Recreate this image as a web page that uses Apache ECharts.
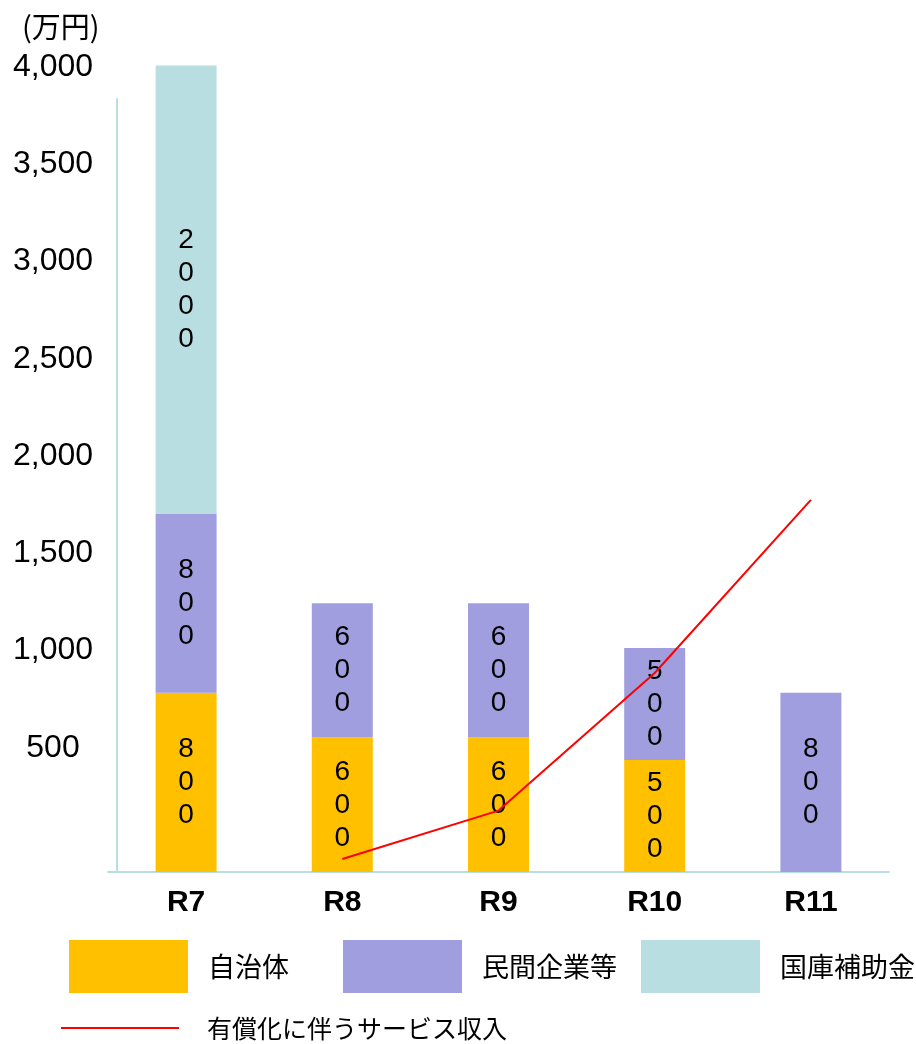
<!DOCTYPE html>
<html>
<head>
<meta charset="utf-8">
<script src="https://cdn.jsdelivr.net/npm/echarts@6/dist/echarts.min.js"></script>
<style>
html,body{margin:0;padding:0;background:#fff;}
#chart{width:916px;height:1044px;}
</style>
</head>
<body>
<div id="chart"></div>
<script>
// ---- data ----
var categories = ['R7', 'R8', 'R9', 'R10', 'R11'];
var municipal = [800, 600, 600, 500, null];      // 自治体
var privateCo = [800, 600, 600, 500, 800];       // 民間企業等
var subsidy   = [2000, null, null, null, null];  // 国庫補助金
var serviceIncome = [null, 58, 274, 888, 1661];  // 有償化に伴うサービス収入
var yTickLabels = [500, 1000, 1500, 2000, 2500, 3000, 3500, 4000];

var names = ['自治体', '民間企業等', '国庫補助金', '有償化に伴うサービス収入'];
var colors = ['#FFC000', '#A09EDE', '#B9DEE1', '#FF0000'];

var NUM_FONT = '"Liberation Sans", Arial, sans-serif';
var CJK_FONT = '"Noto Sans CJK JP", "Noto Sans", sans-serif';

function digitLabel(p) {
  if (p.value == null) return '';
  return String(p.value).split('').join('\n');
}

var chart = echarts.init(document.getElementById('chart'));

var barLabel = {
  show: true,
  position: 'inside',
  formatter: digitLabel,
  fontFamily: NUM_FONT,
  fontSize: 28,
  lineHeight: 33,
  color: '#000'
};

function legendFor(name, left, top, opts) {
  return Object.assign({
    data: [{ name: name, icon: 'rect' }],
    left: left,
    top: top,
    padding: 0,
    orient: 'horizontal',
    selectedMode: false,
    itemWidth: 119,
    itemHeight: 53,
    textStyle: {
      fontFamily: CJK_FONT,
      fontSize: 27,
      color: '#000',
      padding: [0, 0, 0, 15]
    }
  }, opts || {});
}

var option = {
  animation: false,
  backgroundColor: '#fff',
  title: {
    text: '(万円)',
    left: 17,
    top: 7,
    textStyle: { fontFamily: CJK_FONT, fontSize: 29, fontWeight: 'normal', color: '#000' }
  },
  grid: [
    // grid 0: tick-label axis as drawn in the reference
    { left: 117, top: 67, width: 772, height: 778, outerBoundsMode: 'none', containLabel: false },
    // grid 1: bars and line
    { left: 108, top: 99, width: 781, height: 773, outerBoundsMode: 'none', containLabel: false }
  ],
  legend: [
    legendFor(names[0], 69, 940),
    legendFor(names[1], 343, 940),
    legendFor(names[2], 641, 940),
    legendFor(names[3], 61, 1013, {
      itemWidth: 118,
      itemHeight: 2,
      itemStyle: { color: colors[3] },
      textStyle: { fontFamily: CJK_FONT, fontSize: 25, lineHeight: 30, color: '#000', padding: [0, 0, 0, 23] }
    })
  ],
  xAxis: [
    { gridIndex: 0, type: 'category', data: categories, show: false },
    {
      gridIndex: 1,
      type: 'category',
      data: categories,
      axisLine: { show: true, lineStyle: { color: '#B9DEE1', width: 2 } },
      axisTick: { show: false },
      axisLabel: {
        margin: 16,
        fontFamily: NUM_FONT,
        fontSize: 30,
        fontWeight: 'bold',
        color: '#000'
      }
    }
  ],
  yAxis: [
    {
      gridIndex: 0,
      type: 'value',
      min: 0,
      max: 4000,
      interval: 500,
      axisLine: { show: false },
      axisTick: { show: false },
      splitLine: { show: false },
      axisLabel: {
        margin: 64,
        align: 'center',
        fontFamily: NUM_FONT,
        fontSize: 32,
        color: '#000',
        formatter: function (v) {
          return yTickLabels.indexOf(v) >= 0 ? v.toLocaleString('en-US') : '';
        }
      }
    },
    {
      gridIndex: 1,
      type: 'value',
      min: 0,
      max: 3450,
      offset: -9,
      axisLine: { show: true, lineStyle: { color: '#B9DEE1', width: 2 } },
      axisTick: { show: false },
      splitLine: { show: false },
      axisLabel: { show: false }
    }
  ],
  series: [
    {
      name: names[0], type: 'bar', stack: 'total', xAxisIndex: 1, yAxisIndex: 1,
      data: municipal, barWidth: 61, clip: false,
      itemStyle: { color: colors[0] }, label: barLabel
    },
    {
      name: names[1], type: 'bar', stack: 'total', xAxisIndex: 1, yAxisIndex: 1,
      data: privateCo, barWidth: 61, clip: false,
      itemStyle: { color: colors[1] }, label: barLabel
    },
    {
      name: names[2], type: 'bar', stack: 'total', xAxisIndex: 1, yAxisIndex: 1,
      data: subsidy, barWidth: 61, clip: false,
      itemStyle: { color: colors[2] }, label: barLabel
    },
    {
      name: names[3], type: 'line', xAxisIndex: 1, yAxisIndex: 1,
      data: serviceIncome, symbol: 'none', showSymbol: false,
      lineStyle: { color: colors[3], width: 2 },
      itemStyle: { color: colors[3] },
      z: 10
    }
  ]
};

chart.setOption(option);
</script>
</body>
</html>
